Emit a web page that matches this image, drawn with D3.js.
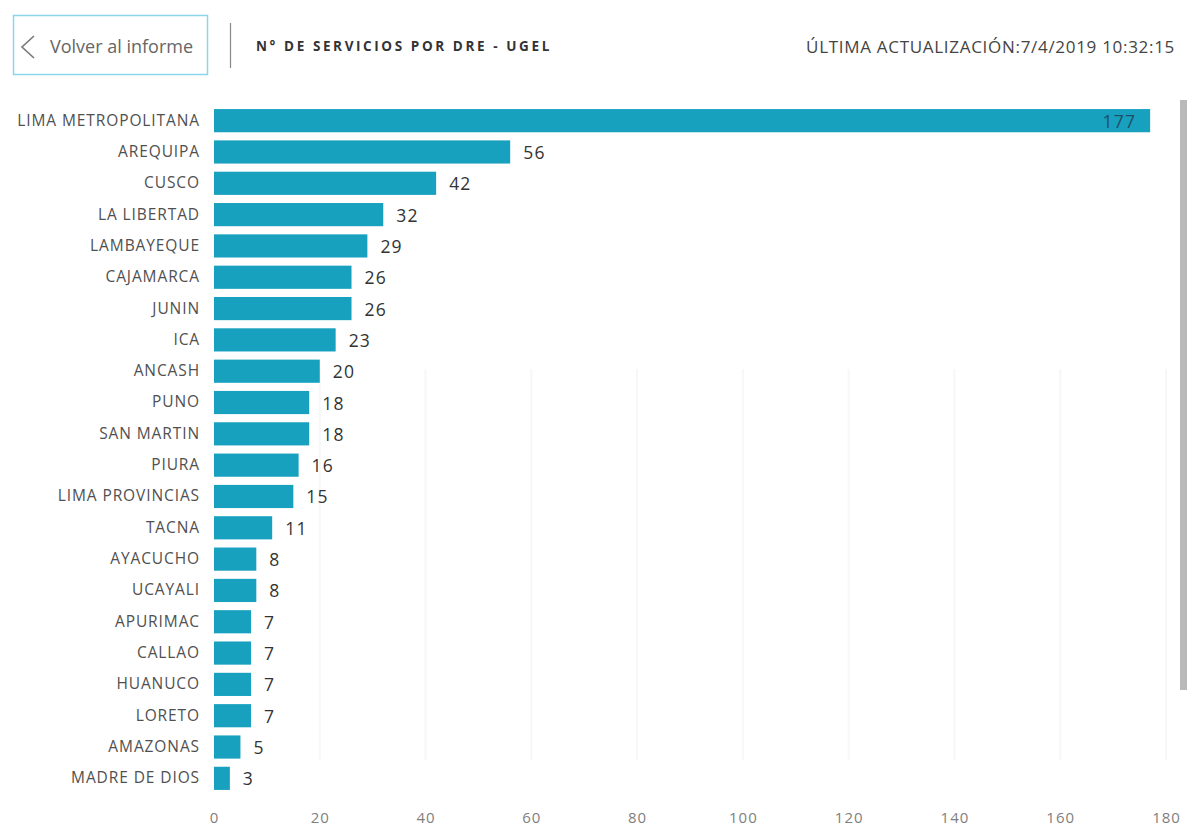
<!DOCTYPE html>
<html>
<head>
<meta charset="utf-8">
<script src="https://cdn.jsdelivr.net/npm/d3@7"></script>
<style>
  body { margin: 0; background: #fff; font-family: "Open Sans", sans-serif; }
</style>
</head>
<body>
<svg id="chart" width="1187" height="828"></svg>
<script>
// datos
const regiones = ['LIMA METROPOLITANA', 'AREQUIPA', 'CUSCO', 'LA LIBERTAD', 'LAMBAYEQUE',
  'CAJAMARCA', 'JUNIN', 'ICA', 'ANCASH', 'PUNO', 'SAN MARTIN', 'PIURA', 'LIMA PROVINCIAS',
  'TACNA', 'AYACUCHO', 'UCAYALI', 'APURIMAC', 'CALLAO', 'HUANUCO', 'LORETO', 'AMAZONAS',
  'MADRE DE DIOS'];
const servicios = [177, 56, 42, 32, 29, 26, 26, 23, 20, 18, 18, 16, 15, 11, 8, 8, 7, 7, 7, 7, 5, 3];
const ticks = [0, 20, 40, 60, 80, 100, 120, 140, 160, 180];
const titulo = 'N° DE SERVICIOS POR DRE - UGEL';
const actualizacion = 'ÚLTIMA ACTUALIZACIÓN:7/4/2019 10:32:15';

const data = regiones.map((r, i) => ({ region: r, valor: servicios[i] }));

const svg = d3.select('#chart');

// cabecera
svg.append('rect')
  .attr('x', 13.5).attr('y', 15.5).attr('width', 194).attr('height', 59)
  .attr('fill', '#fff').attr('stroke', '#8ad6ea').attr('stroke-width', 1.5);
svg.append('path')
  .attr('d', 'M34,36 L22,47 L34,58')
  .attr('fill', 'none').attr('stroke', '#777').attr('stroke-width', 1.6);
svg.append('text')
  .attr('x', 50).attr('y', 53)
  .attr('font-size', 18).attr('fill', '#666')
  .text('Volver al informe');
svg.append('line')
  .attr('x1', 230.5).attr('x2', 230.5).attr('y1', 23).attr('y2', 68)
  .attr('stroke', '#888').attr('stroke-width', 1.2);
svg.append('text')
  .attr('x', 256).attr('y', 51)
  .attr('font-size', 13.5).attr('font-weight', 'bold')
  .attr('letter-spacing', 2.6).attr('fill', '#333')
  .text(titulo);
svg.append('text')
  .attr('x', 1175).attr('y', 53)
  .attr('text-anchor', 'end')
  .attr('font-size', 17).attr('letter-spacing', 0.7).attr('fill', '#444')
  .text(actualizacion);

// escalas
const x = d3.scaleLinear().domain([0, 180]).range([214, 1166]);
const y = d3.scaleBand().domain(regiones).range([105, 794]).paddingInner(0.26).paddingOuter(0.13);

// cuadrícula
svg.append('g')
  .selectAll('line')
  .data(ticks.slice(1))
  .join('line')
  .attr('x1', d => x(d)).attr('x2', d => x(d))
  .attr('y1', 369).attr('y2', 760)
  .attr('stroke', '#f7f7f7').attr('stroke-width', 2);

// barras
svg.append('g')
  .selectAll('rect')
  .data(data)
  .join('rect')
  .attr('x', x(0))
  .attr('y', d => y(d.region))
  .attr('width', d => x(d.valor) - x(0))
  .attr('height', y.bandwidth())
  .attr('fill', '#17a1bf');

// etiquetas de valor
svg.append('g')
  .selectAll('text')
  .data(data)
  .join('text')
  .attr('x', d => d.valor > 150 ? x(d.valor) - 14 : x(d.valor) + 13)
  .attr('y', d => y(d.region) + y.bandwidth() / 2 + 7)
  .attr('text-anchor', d => d.valor > 150 ? 'end' : 'start')
  .attr('font-size', 17.5)
  .attr('letter-spacing', 1.2)
  .attr('fill', d => d.valor > 150 ? '#1f4f66' : '#333')
  .text(d => d.valor);

// eje Y
const yAxis = svg.append('g')
  .attr('transform', 'translate(214,0)')
  .call(d3.axisLeft(y).tickSize(0).tickPadding(14));
yAxis.select('.domain').remove();
yAxis.selectAll('text')
  .attr('font-family', '"Open Sans", sans-serif')
  .attr('font-size', 15.5)
  .attr('letter-spacing', 0.9)
  .attr('fill', '#505050');

// eje X
const xAxis = svg.append('g')
  .attr('transform', 'translate(0,802)')
  .call(d3.axisBottom(x).tickValues(ticks).tickSize(0).tickPadding(10));
xAxis.select('.domain').remove();
xAxis.selectAll('text')
  .attr('font-family', '"Open Sans", sans-serif')
  .attr('font-size', 15)
  .attr('letter-spacing', 1)
  .attr('fill', '#808080');

// barra de desplazamiento
svg.append('rect')
  .attr('x', 1180).attr('y', 100).attr('width', 7).attr('height', 590)
  .attr('fill', '#b9b9b9');
</script>
</body>
</html>
